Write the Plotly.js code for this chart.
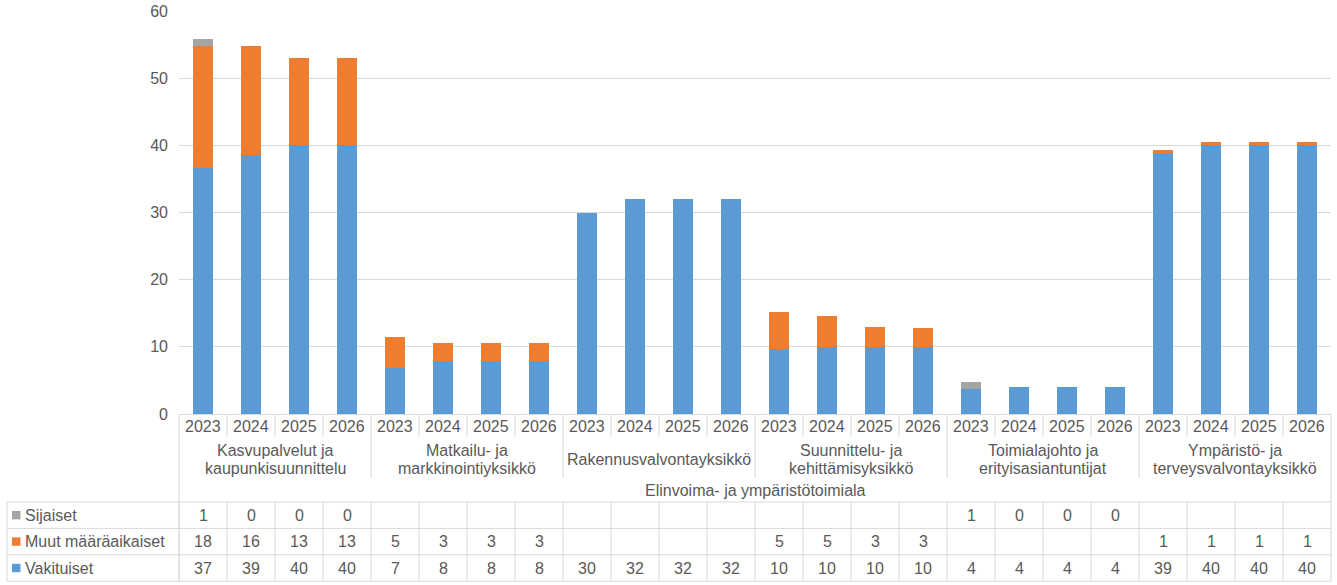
<!DOCTYPE html>
<html><head><meta charset="utf-8">
<script src="https://cdn.plot.ly/plotly-3.0.1.min.js"></script>
<style>html,body{margin:0;padding:0;background:#fff}#chart{width:1337px;height:585px}</style>
</head><body><div id="chart"></div>
<script>
// ---- data ----
const years = ['2023', '2024', '2025', '2026'];
const units = [
  ['Kasvupalvelut ja', 'kaupunkisuunnittelu'],
  ['Matkailu- ja', 'markkinointiyksikkö'],
  ['Rakennusvalvontayksikkö'],
  ['Suunnittelu- ja', 'kehittämisyksikkö'],
  ['Toimialajohto ja', 'erityisasiantuntijat'],
  ['Ympäristö- ja', 'terveysvalvontayksikkö']
];
const division = 'Elinvoima- ja ympäristötoimiala';
const seriesNames = ['Sijaiset', 'Muut määräaikaiset', 'Vakituiset'];
const vakituiset = [36.6, 38.6, 40, 40, 6.9, 7.9, 7.9, 7.9, 30, 32, 32, 32, 9.7, 10, 10, 10, 3.7, 4, 4, 4, 38.8, 40, 40, 40];
const muut = [18.25, 16.25, 13, 13, 4.5, 2.6, 2.6, 2.6, null, null, null, null, 5.45, 4.6, 3, 2.8, null, null, null, null, 0.55, 0.5, 0.5, 0.5];
const sijaiset = [1, 0, 0, 0, null, null, null, null, null, null, null, null, null, null, null, null, 1, 0, 0, 0, null, null, null, null];

// ---- styling / geometry ----
const colors = {'Sijaiset': '#a5a5a5', 'Muut määräaikaiset': '#ed7d31', 'Vakituiset': '#5b9bd5'};
const FONT = 'Liberation Sans, Arial, sans-serif';
const TXT = '#595959';
const LINE = '#d9d9d9';
const W = 1337, Hh = 585;
const L = 179, R = 6, T = 11, B = 171;
const PW = W - L - R, PH = Hh - T - B;
const px2x = p => (p - L) / PW;
const px2y = p => (T + PH - p) / PH;

const n = units.length * years.length;
const xs = Array.from({length: n}, (_, i) => i);
const seriesData = {'Sijaiset': sijaiset, 'Muut määräaikaiset': muut, 'Vakituiset': vakituiset};

const traces = ['Vakituiset', 'Muut määräaikaiset', 'Sijaiset'].map(name => ({
  type: 'bar', name: name, x: xs, y: seriesData[name],
  marker: {color: colors[name], line: {width: 0}},
  hoverinfo: 'skip'
}));

const shapes = [];
const annotations = [];
const colW = PW / n;
const ln = (x0, y0, x1, y1) => shapes.push({type: 'line', xref: 'paper', yref: 'paper',
  x0: px2x(x0), x1: px2x(x1), y0: px2y(y0), y1: px2y(y1), line: {color: LINE, width: 1}});

const axisTop = T + PH;
const tableTop = 502, rowH = 26.4;
const tableBottom = tableTop + 3 * rowH;
// category axis dividers
for (let k = 0; k <= n; k++) {
  const xp = L + k * colW;
  let yb;
  if (k === 0 || k === n) yb = tableBottom;
  else if (k % years.length === 0) yb = 478;
  else yb = 437;
  ln(xp, axisTop, xp, yb);
  if (k > 0 && k < n) ln(xp, tableTop, xp, tableBottom);
}
// table horizontal lines and left edge
for (let r = 0; r <= 3; r++) ln(7, tableTop + r * rowH, L + n * colW, tableTop + r * rowH);
ln(7, tableTop, 7, tableBottom);
ln(L, tableTop, L, tableBottom);

const ann = (text, x, y, xref, xanchor) => annotations.push({
  text: text, x: x, y: y, xref: xref || 'x', yref: 'paper', xanchor: xanchor || 'center', yanchor: 'middle',
  showarrow: false, font: {family: FONT, size: 16, color: TXT}, borderpad: 0
});

// years
xs.forEach(i => ann(years[i % years.length], i, px2y(426.7)));
// units
units.forEach((u, g) => {
  const xc = g * years.length + (years.length - 1) / 2;
  if (u.length === 1) ann(u[0], xc, px2y(459));
  else { ann(u[0], xc, px2y(450)); ann(u[1], xc, px2y(468.3)); }
});
// division
ann(division, (n - 1) / 2, px2y(491));

// table rows
seriesNames.forEach((name, r) => {
  const yc = tableTop + rowH * (r + 0.5);
  shapes.push({type: 'rect', xref: 'paper', yref: 'paper', x0: px2x(12), x1: px2x(20.5),
    y0: px2y(yc - 4.2), y1: px2y(yc + 4.2), fillcolor: colors[name], line: {width: 0}});
  ann(name, px2x(24), px2y(yc), 'paper', 'left');
  seriesData[name].forEach((v, i) => {
    if (v !== null && v !== undefined) ann(String(Math.round(v)), i, px2y(yc));
  });
});

const layout = {
  width: W, height: Hh,
  margin: {l: L, r: R, t: T, b: B, pad: 0},
  paper_bgcolor: '#fff', plot_bgcolor: '#fff',
  barmode: 'stack', bargap: 0.6,
  showlegend: false,
  font: {family: FONT, size: 16, color: TXT},
  xaxis: {range: [-0.5, n - 0.5], showticklabels: false, showgrid: false, zeroline: false,
    showline: true, linecolor: LINE, linewidth: 1, ticks: '', fixedrange: true},
  yaxis: {range: [0, 60], dtick: 10, tick0: 0, showgrid: true, gridcolor: LINE, gridwidth: 1,
    zeroline: false, showline: false, ticks: '', ticklabelstandoff: 10,
    tickfont: {family: FONT, size: 16, color: TXT}, fixedrange: true},
  shapes: shapes,
  annotations: annotations
};

Plotly.newPlot('chart', traces, layout, {staticPlot: true, displayModeBar: false});
</script>
</body></html>
